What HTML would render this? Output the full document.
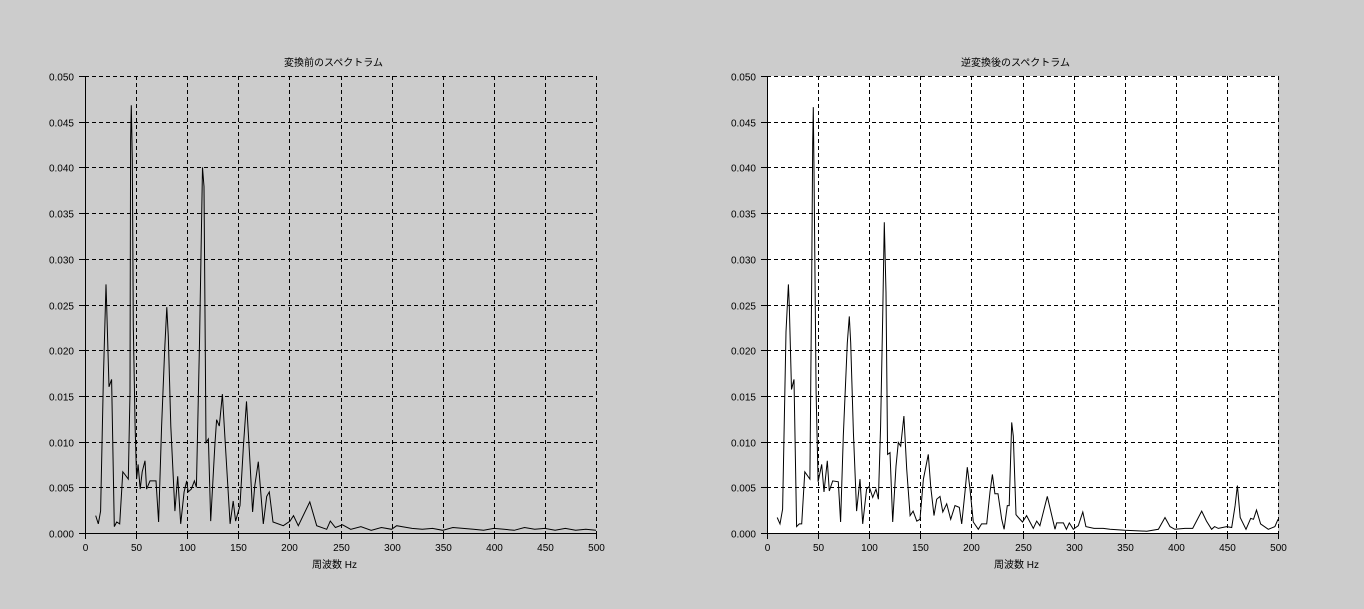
<!DOCTYPE html>
<html><head><meta charset="utf-8"><style>
html,body{margin:0;padding:0;background:#cccccc;}
svg{display:block;font-family:"Liberation Sans","Noto Sans CJK JP",sans-serif;}
</style></head><body>
<svg id="root" width="1364" height="609" viewBox="0 0 1364 609" xmlns="http://www.w3.org/2000/svg"></svg>
<script>
const xTicks=[0,50,100,150,200,250,300,350,400,450,500];
const yTicks=[0,0.005,0.01,0.015,0.02,0.025,0.03,0.035,0.04,0.045,0.05];
const titleLeft="変換前のスペクトラム";
const titleRight="逆変換後のスペクトラム";
const xLabel="周波数 Hz";
const freqLeft=[10.5,13,15.3,18,20.5,21,23.5,26,28.7,31,34,37,39,42.4,44,44.6,45.3,46.3,47.3,49,50.5,52,54,56,58.7,60.3,63.6,69.5,72,75,78,80,81.5,84,88,90.7,93.6,97,99.5,101,104,107,109,112,115,116.4,118.4,120.7,123,127,128.8,131.4,134.4,137,142,145,147.4,151.7,155,158,161.5,164,166,169.6,174.5,177.8,180.3,184,194,200.6,204,208.7,220,226.7,236.5,240,245,252,260,270,280,290,300,305,310,320,330,340,350,360,370,380,390,400,410,420,430,440,450,460,470,480,490,500];
const valLeft=[0.0019,0.001,0.0024,0.017,0.0272,0.0255,0.016,0.0168,0.0007,0.0012,0.001,0.0067,0.0064,0.0059,0.0154,0.043,0.0468,0.0408,0.0226,0.0117,0.0059,0.0075,0.0048,0.0067,0.0079,0.0048,0.0057,0.0057,0.0012,0.0117,0.0201,0.0247,0.0215,0.0117,0.0024,0.0062,0.001,0.0045,0.0057,0.0045,0.0048,0.0057,0.005,0.0208,0.04,0.0379,0.0099,0.0103,0.0013,0.0095,0.0124,0.0117,0.0152,0.0103,0.001,0.0035,0.0013,0.003,0.0095,0.0144,0.0075,0.0023,0.0051,0.0078,0.001,0.004,0.0045,0.0012,0.0008,0.0013,0.0019,0.0008,0.0034,0.0008,0.0004,0.0013,0.0006,0.0009,0.0004,0.0007,0.0003,0.0006,0.0004,0.0008,0.0007,0.0005,0.0004,0.0005,0.0003,0.0006,0.0005,0.0004,0.0003,0.0005,0.0004,0.0003,0.0006,0.0004,0.0005,0.0003,0.0005,0.0003,0.0004,0.0003];
const freqRight=[10,12.7,15.3,18.6,20.9,21.8,24,26.4,29,31.6,34,37,42,43.7,44.7,45.3,46,48,50,53.5,55.8,59,61,64.3,69.8,72,74.7,78.6,80.5,81.9,84.5,87.7,91,93.6,97.5,100,103.4,106.7,109,111.2,113.2,114.8,116.4,118,120.4,123,126.2,128.5,130.8,134,136.7,140,143,146.6,149.7,153,157.8,160.2,163.4,166,169.3,172,175.8,179.7,184,188.2,190.5,193.7,196,198.6,201.9,206.8,210,215,218.2,220.5,223,226,229.6,232,235.1,237,239.4,241,243.6,246,250,254,260.6,263.9,267,274.3,281.8,283.5,290,293,295.8,299.7,304.6,309,312,320,329,335.6,350,371.5,383,389.4,394.3,399,409,416.5,425.3,430,435,438,441.6,449.8,454.7,458,460.3,463,468.7,473.3,476,479,483,490.5,497,500];
const valRight=[0.0017,0.001,0.0026,0.022,0.0272,0.0248,0.0157,0.0168,0.0007,0.001,0.001,0.0067,0.0059,0.0277,0.0427,0.0466,0.0397,0.0154,0.0056,0.0075,0.0045,0.0079,0.0046,0.0057,0.0056,0.0012,0.0106,0.0208,0.0237,0.0208,0.011,0.0024,0.0059,0.001,0.0048,0.0051,0.0039,0.0048,0.0037,0.0117,0.0237,0.034,0.0263,0.0086,0.0088,0.0012,0.0073,0.0099,0.0095,0.0128,0.007,0.0019,0.0024,0.0013,0.0015,0.0059,0.0086,0.0051,0.0019,0.0037,0.004,0.0023,0.0032,0.0015,0.003,0.0028,0.001,0.0045,0.0072,0.0048,0.0012,0.0004,0.001,0.001,0.0045,0.0064,0.0043,0.0043,0.0015,0.0004,0.003,0.003,0.0121,0.0106,0.002,0.0017,0.0012,0.0019,0.0005,0.0013,0.0008,0.004,0.0004,0.0011,0.0011,0.0004,0.0011,0.0004,0.0008,0.0023,0.0007,0.0005,0.0005,0.0004,0.0003,0.0002,0.0004,0.0017,0.0007,0.0004,0.0005,0.0005,0.0024,0.0013,0.0004,0.0007,0.0005,0.0007,0.0006,0.003,0.0052,0.0017,0.0004,0.0016,0.0015,0.0025,0.001,0.0004,0.0007,0.0015];

const NS="http://www.w3.org/2000/svg";
const root=document.getElementById('root');
function mk(tag,attrs,parent){const e=document.createElementNS(NS,tag);for(const k in attrs)e.setAttribute(k,attrs[k]);parent.appendChild(e);return e;}

function drawChart(ox,bg,title,freqs,vals,key){
  const L=ox,R=ox+511,T=76,B=533;
  const xs=v=>L+(v/500)*(R-L);
  const ys=v=>B-(v/0.05)*(B-T);
  const g=mk('g',{},root);
  
  
  const bgR=mk('rect',{x:L,y:T,width:R-L,height:B-T,fill:bg},g);
  
  
  const t=mk('text',{x:(L+R)/2-7,y:66,'text-anchor':'middle','font-size':'10',fill:'#000'},g);
  t.textContent=title;
  
  
  const grid=mk('g',{stroke:'#000','stroke-width':'1','stroke-dasharray':'4,3'},g);
  
  
  xTicks.forEach(v=>{if(v>0){const x=Math.round(xs(v))+0.5;mk('line',{x1:x,y1:T,x2:x,y2:B},grid);}});
  yTicks.forEach(v=>{if(v>0){const y=Math.round(ys(v))+0.5;mk('line',{x1:L,y1:y,x2:R,y2:y},grid);}});
  const ax=mk('g',{stroke:'#000','stroke-width':'1'},g);
  
  
  mk('line',{x1:L+0.5,y1:T,x2:L+0.5,y2:B+6},ax);
  mk('line',{x1:L-6,y1:B+0.5,x2:R,y2:B+0.5},ax);
  xTicks.forEach(v=>{const x=Math.round(xs(v))+0.5;mk('line',{x1:x,y1:B,x2:x,y2:B+6},ax);
    const lb=mk('text',{x:x,y:551,'text-anchor':'middle','font-size':'10',fill:'#000',stroke:'none'},g);
    lb.textContent=String(v);
    
    });
  yTicks.forEach(v=>{const y=Math.round(ys(v))+0.5;mk('line',{x1:L-6,y1:y,x2:L,y2:y},ax);
    const lb=mk('text',{x:L-11,y:y+4,'text-anchor':'end','font-size':'10',fill:'#000',stroke:'none'},g);
    lb.textContent=v.toFixed(3);
    
    });
  const xl=mk('text',{x:(L+R)/2-6,y:568,'text-anchor':'middle','font-size':'10',fill:'#000'},g);
  xl.textContent=xLabel;
  
  
  const pts=freqs.map((f,i)=>xs(f).toFixed(1)+','+ys(vals[i]).toFixed(1)).join(' ');
  const pl=mk('polyline',{points:pts,fill:'none',stroke:'#000','stroke-width':'1'},g);
  
  
}
drawChart(85,'#cccccc',titleLeft,freqLeft,valLeft,'before');
drawChart(767,'#ffffff',titleRight,freqRight,valRight,'after');
</script>
</body></html>
